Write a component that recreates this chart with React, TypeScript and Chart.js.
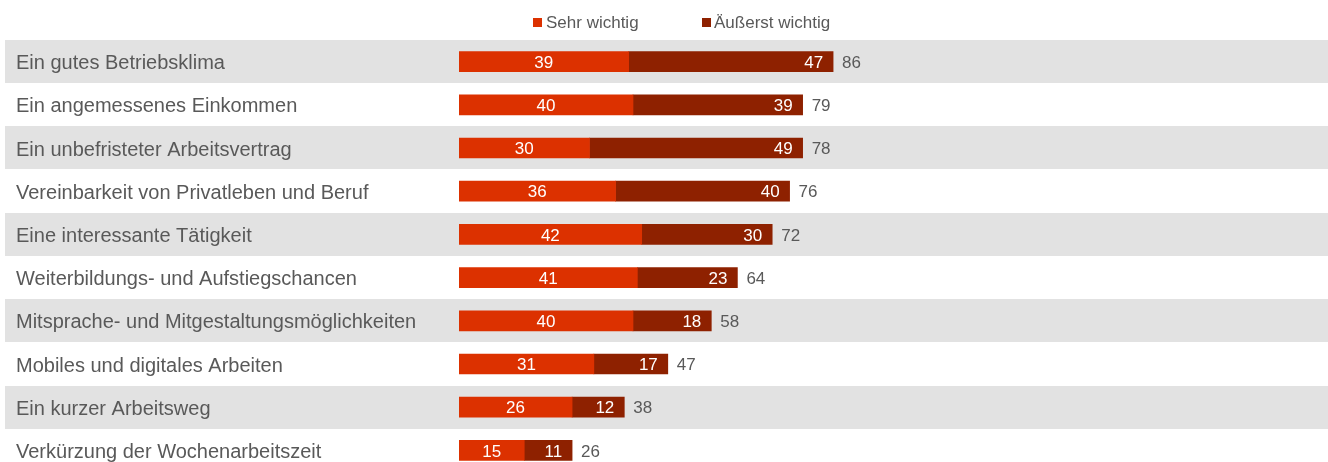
import React, { useEffect, useRef } from "react";
import { Chart, registerables } from "chart.js";

Chart.register(...registerables);

const categories = [
  "Ein gutes Betriebsklima",
  "Ein angemessenes Einkommen",
  "Ein unbefristeter Arbeitsvertrag",
  "Vereinbarkeit von Privatleben und Beruf",
  "Eine interessante Tätigkeit",
  "Weiterbildungs- und Aufstiegschancen",
  "Mitsprache- und Mitgestaltungsmöglichkeiten",
  "Mobiles und digitales Arbeiten",
  "Ein kurzer Arbeitsweg",
  "Verkürzung der Wochenarbeitszeit",
];
const sehrWichtig = [39, 40, 30, 36, 42, 41, 40, 31, 26, 15];
const aeusserstWichtig = [47, 39, 49, 40, 30, 23, 18, 17, 12, 11];
const totals = [86, 79, 78, 76, 72, 64, 58, 47, 38, 26];
const seriesNames = ["Sehr wichtig", "Äußerst wichtig"];

const RED = "#DC3100";
const DARK = "#8E2100";
const TEXT = "#595959";
const BAND = "#E2E2E2";
const FONT = "'Liberation Sans', Arial, sans-serif";

const bandsPlugin = {
  id: "bands",
  beforeDraw(chart: any) {
    const { ctx } = chart;
    const y = chart.scales.y;
    const step = (y.bottom - y.top) / categories.length;
    ctx.save();
    ctx.fillStyle = BAND;
    categories.forEach((_, i) => {
      if (i % 2 === 0) {
        const c = y.getPixelForValue(i);
        ctx.fillRect(5, Math.round(c - step / 2), chart.width - 5, Math.round(step));
      }
    });
    ctx.restore();
  },
};

const labelsPlugin = {
  id: "valueLabels",
  afterDatasetsDraw(chart: any) {
    const { ctx } = chart;
    const m0 = chart.getDatasetMeta(0);
    const m1 = chart.getDatasetMeta(1);
    ctx.save();
    ctx.textBaseline = "middle";
    ctx.font = `17px ${FONT}`;
    categories.forEach((_, i) => {
      const b0 = m0.data[i] as any;
      const b1 = m1.data[i] as any;
      ctx.fillStyle = "#FFFFFF";
      ctx.textAlign = "center";
      ctx.fillText(String(sehrWichtig[i]), (b0.base + b0.x) / 2, b0.y + 1.5);
      ctx.textAlign = "right";
      ctx.fillText(String(aeusserstWichtig[i]), b1.x - 10, b1.y + 1.5);
      ctx.fillStyle = TEXT;
      ctx.textAlign = "left";
      ctx.fillText(String(totals[i]), b1.x + 9, b1.y + 1.5);
    });
    // legend
    ctx.font = `17px ${FONT}`;
    ctx.fillStyle = RED;
    ctx.fillRect(533, 18, 9, 9);
    ctx.fillStyle = DARK;
    ctx.fillRect(702, 18, 9, 9);
    ctx.fillStyle = TEXT;
    ctx.textAlign = "left";
    ctx.fillText(seriesNames[0], 546, 23.5);
    ctx.fillText(seriesNames[1], 714, 23.5);
    ctx.restore();
  },
};

export default function App() {
  const ref = useRef<HTMLCanvasElement>(null);
  useEffect(() => {
    document.body.style.margin = "0";
    const chart = new Chart(ref.current as HTMLCanvasElement, {
      type: "bar",
      data: {
        labels: categories,
        datasets: [
          {
            label: seriesNames[0],
            data: sehrWichtig,
            backgroundColor: RED,
            borderWidth: 0,
            barThickness: 20,
          },
          {
            label: seriesNames[1],
            data: aeusserstWichtig,
            backgroundColor: DARK,
            borderWidth: 0,
            barThickness: 20,
          },
        ],
      },
      options: {
        indexAxis: "y",
        responsive: false,
        animation: false,
        layout: { padding: { left: 16, right: 434, top: 40, bottom: 0 } },
        plugins: {
          legend: { display: false },
          tooltip: { enabled: false },
        },
        scales: {
          x: {
            stacked: true,
            min: 0,
            max: 100,
            display: false,
          },
          y: {
            stacked: true,
            grid: { display: false },
            border: { display: false },
            afterFit(scale: any) {
              scale.width = 443;
            },
            ticks: {
              crossAlign: "far",
              color: TEXT,
              font: { size: 20, family: FONT },
              padding: 0,
              labelOffset: 2,
            },
          },
        },
      },
      plugins: [bandsPlugin, labelsPlugin],
    } as any);
    return () => chart.destroy();
  }, []);
  return (
    <div style={{ width: 1328, height: 462, overflow: "hidden" }}>
      <canvas ref={ref} width={1328} height={484} style={{ display: "block" }} />
    </div>
  );
}
